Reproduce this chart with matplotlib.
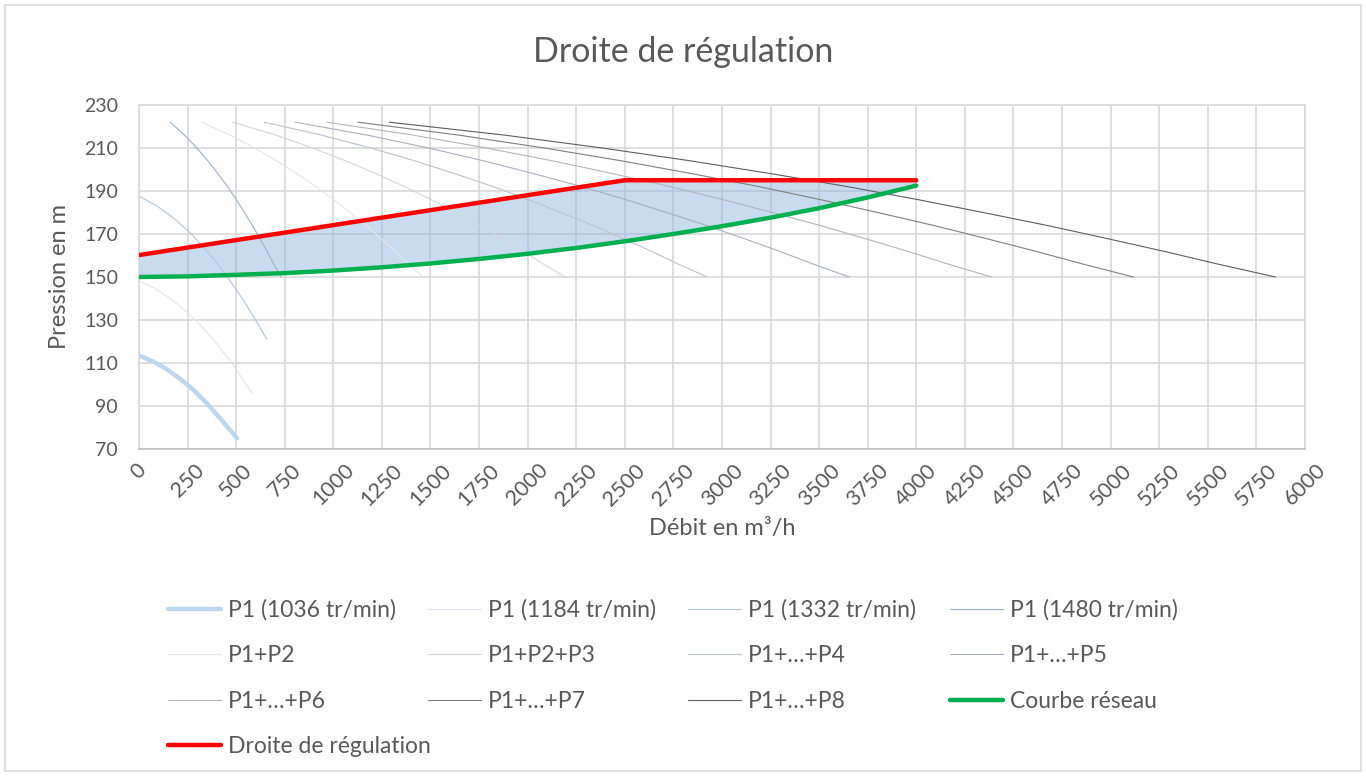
import matplotlib
matplotlib.use("Agg")
import matplotlib.pyplot as plt
from matplotlib.patches import Rectangle

plt.rcParams['font.family'] = ['Lato', 'DejaVu Sans']

# pompe seule a vitesse reduite
q_1036 = [0, 70, 140, 210, 280, 350, 420, 505]
h_1036 = [113.5, 110.8, 107.3, 102.8, 97.5, 91.2, 84.0, 75.0]
q_1184 = [0, 80, 160, 240, 320, 400, 480, 585]
h_1184 = [148.2, 144.8, 140.1, 134.3, 127.3, 119.1, 109.7, 95.7]
q_1332 = [0, 90, 180, 270, 360, 450, 540, 600, 658]
h_1332 = [187.6, 183.2, 177.3, 170.0, 161.1, 150.7, 138.9, 130.1, 121.1]

# pompes a 1480 tr/min en parallele (meme hauteur, debits cumules)
h_pompes = [222, 216, 210, 204, 198, 192, 186, 180, 174, 168, 162, 156, 150]
q_p1 = [161, 235, 298, 355, 407, 456, 501, 543, 584, 622, 659, 694, 731]
q_p2 = [322, 470, 596, 710, 814, 912, 1002, 1086, 1168, 1244, 1318, 1388, 1462]
q_p3 = [483, 705, 894, 1065, 1221, 1368, 1503, 1629, 1752, 1866, 1977, 2082, 2193]
q_p4 = [644, 940, 1192, 1420, 1628, 1824, 2004, 2172, 2336, 2488, 2636, 2776, 2924]
q_p5 = [805, 1175, 1490, 1775, 2035, 2280, 2505, 2715, 2920, 3110, 3295, 3470, 3655]
q_p6 = [966, 1410, 1788, 2130, 2442, 2736, 3006, 3258, 3504, 3732, 3954, 4164, 4386]
q_p7 = [1127, 1645, 2086, 2485, 2849, 3192, 3507, 3801, 4088, 4354, 4613, 4858, 5117]
q_p8 = [1288, 1880, 2384, 2840, 3256, 3648, 4008, 4344, 4672, 4976, 5272, 5552, 5848]

# courbe reseau et droite de regulation
q_reseau = [0, 250, 500, 750, 1000, 1250, 1500, 1750, 2000, 2250, 2500,
            2750, 3000, 3250, 3500, 3750, 4000]
h_reseau = [150, 150.3, 151, 151.8, 153, 154.5, 156.3, 158.4, 160.8, 163.5,
            166.6, 170, 173.6, 177.6, 182, 187, 192.5]
q_regul = [0, 2500, 4000]
h_regul = [160.2, 195, 195]

gris = '#595959'

fig = plt.figure(figsize=(13.66, 7.76), dpi=100)
ax = fig.add_axes([0.1017, 0.4214, 0.8536, 0.4433])

# zone de regulation
ax.fill(q_regul + q_reseau[::-1], h_regul + h_reseau[::-1],
        color='#8fb4de', alpha=0.48, lw=0, zorder=1.5)

curves = [
    (q_1036, h_1036, 'P1 (1036 tr/min)', '#bdd7ee', 3.2),
    (q_1184, h_1184, 'P1 (1184 tr/min)', '#dbe7f3', 0.8),
    (q_1332, h_1332, 'P1 (1332 tr/min)', '#b4c7dc', 0.8),
    (q_p1, h_pompes, 'P1 (1480 tr/min)', '#9fb1c6', 0.8),
    (q_p2, h_pompes, 'P1+P2', '#e6e6e6', 0.8),
    (q_p3, h_pompes, 'P1+P2+P3', '#d6d6d6', 0.8),
    (q_p4, h_pompes, 'P1+…+P4', '#bcc4ce', 0.8),
    (q_p5, h_pompes, 'P1+…+P5', '#a7b1bd', 0.8),
    (q_p6, h_pompes, 'P1+…+P6', '#b5b5b5', 0.8),
    (q_p7, h_pompes, 'P1+…+P7', '#808080', 0.8),
    (q_p8, h_pompes, 'P1+…+P8', '#5f5f5f', 0.8),
]
handles = []
for q, h, lab, col, lw in curves:
    ln, = ax.plot(q, h, color=col, lw=lw, label=lab, zorder=2,
                  solid_capstyle='round')
    handles.append(ln)

ln_res, = ax.plot(q_reseau, h_reseau, color='#00b050', lw=3.2,
                  label='Courbe réseau', zorder=3, solid_capstyle='round')
ln_reg, = ax.plot(q_regul, h_regul, color='#ff0000', lw=3.2,
                  label='Droite de régulation', zorder=3.1,
                  solid_capstyle='round')
handles += [ln_res, ln_reg]

ax.set_xlim(0, 6000)
ax.set_ylim(70, 230)
ax.set_xticks(range(0, 6001, 250))
ax.set_yticks(range(70, 231, 20))
ax.grid(True, color='#d9d9d9', lw=1.2)
ax.set_axisbelow(True)
for s in ax.spines.values():
    s.set_color('#d9d9d9')
    s.set_linewidth(1.2)
ax.spines['bottom'].set_color('#bfbfbf')
ax.tick_params(length=0, colors=gris)
ax.tick_params(axis='y', pad=15, labelsize=14)
ax.tick_params(axis='x', pad=8, labelsize=15.5)
plt.setp(ax.get_xticklabels(), rotation=45, ha='center')

ax.set_xlabel('Débit en m³/h', fontsize=17, color=gris, labelpad=6)
ax.set_ylabel('Pression en m', fontsize=17, color=gris, labelpad=10)
fig.text(0.5, 0.933, 'Droite de régulation', ha='center', va='center',
         fontsize=24.5, color=gris)

# legende en 4 colonnes, remplie ligne par ligne comme dans Excel
cols = [[0, 4, 8, 12], [1, 5, 9], [2, 6, 10], [3, 7, 11]]
xs = [0.123, 0.3133, 0.5037, 0.6955]
for idx, x0 in zip(cols, xs):
    fig.legend([handles[i] for i in idx], [handles[i].get_label() for i in idx],
               loc='upper left', bbox_to_anchor=(x0, 0.228),
               bbox_transform=fig.transFigure, frameon=False,
               fontsize=16.5, labelcolor=gris, handlelength=2.3,
               handletextpad=0.3, labelspacing=1.07, borderpad=0,
               borderaxespad=0)

fig.patches.append(Rectangle((0.004, 0.006), 0.992, 0.988, fill=False,
                             edgecolor='#d9d9d9', lw=1.2,
                             transform=fig.transFigure, figure=fig))

fig.savefig('out.png', dpi=100)
